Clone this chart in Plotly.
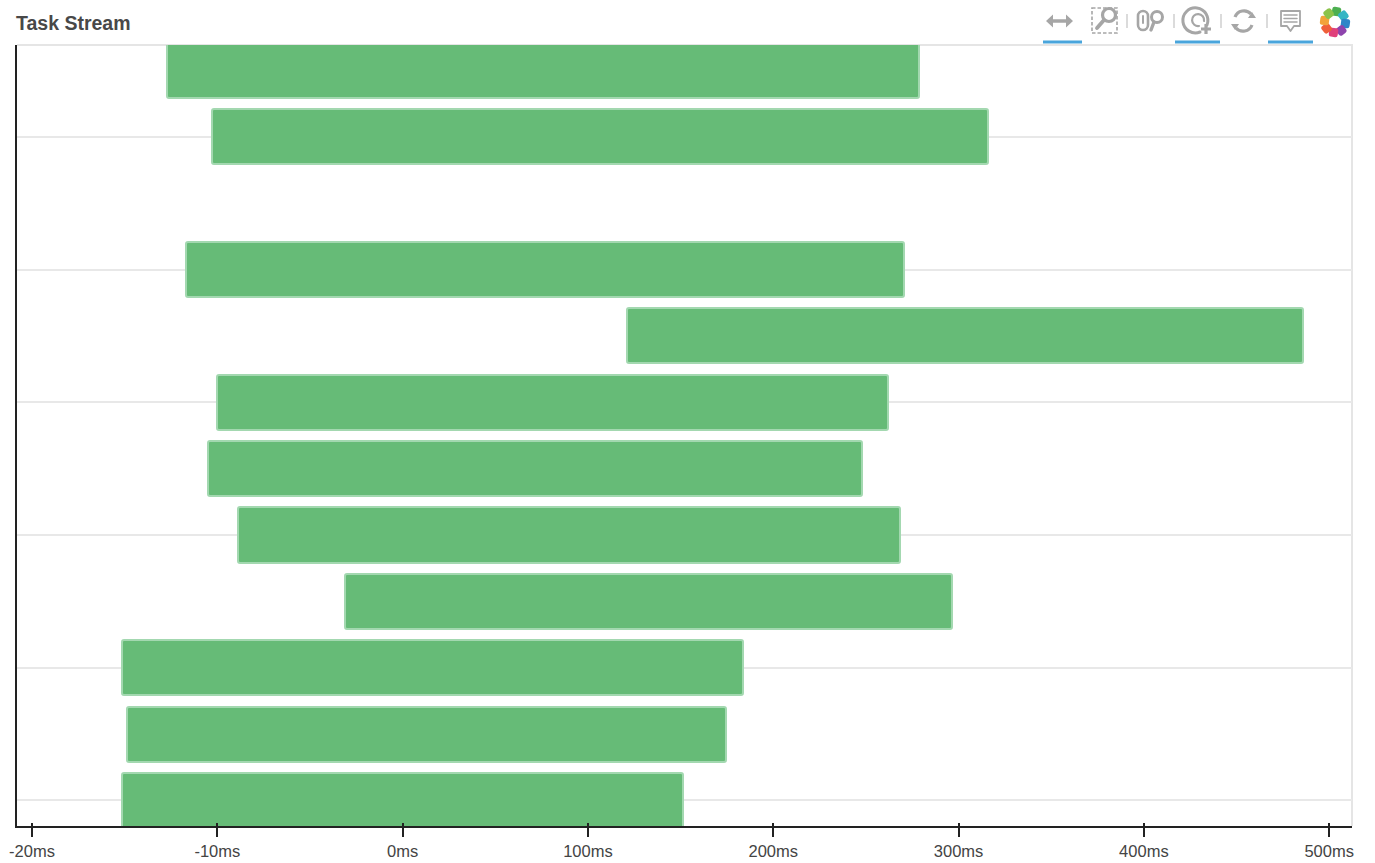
import base64
import numpy as np
import plotly.graph_objects as go

tick_labels = ["-20ms", "-10ms", "0ms", "100ms", "200ms", "300ms", "400ms", "500ms"]
tick_ms = [-20, -10, 0, 100, 200, 300, 400, 500]
rows = [11, 10, 8, 7, 6, 5, 4, 3, 2, 1, 0]
start_ms = [-12.7, -10.3, -11.7, 121, -10, -10.5, -8.9, -3.1, -15.15, -14.85, -15.15]
end_ms = [278.5, 316, 270.5, 486, 262, 248, 268.5, 296.5, 183.5, 174.5, 151.5]
grid_rows = [0, 2, 4, 6, 8, 10]

tick_pos = np.arange(len(tick_ms))
x0 = np.interp(start_ms, tick_ms, tick_pos)
x1 = np.interp(end_ms, tick_ms, tick_pos)

L, R, T, B = 17, 1352, 45, 826
W, H = 1375, 863
GREY = "#a6a6a6"

fig = go.Figure()
fig.add_trace(go.Bar(
    y=rows, x=x1 - x0, base=x0, orientation="h", width=0.83,
    marker=dict(color="#66bb77", line=dict(color="#a3d8b0", width=2), cornerradius=2),
    hoverinfo="skip", showlegend=False,
))
fig.add_trace(go.Scatter(x=[0], y=[0], xaxis="x2", mode="markers", marker=dict(opacity=0),
                         hoverinfo="skip", showlegend=False))

xrange = [-0.0809, 7.123]
petal_colors = ["#4caf50", "#35b5c4", "#2e86c8", "#8e44ad", "#e0407b", "#ef5f3a", "#f2a33a", "#8bc34a"]
petals = "".join(
    f'<rect x="1330.500" y="7" width="9" height="9" rx="2.500" fill="{c}" '
    f'transform="rotate({i * 45 + 8} 1335 22)"/>'
    for i, c in enumerate(petal_colors)
)
svg = f'''<svg xmlns="http://www.w3.org/2000/svg" viewBox="1030 0 345 44" width="345" height="44">
<g fill="none" stroke="{GREY}" stroke-width="3" stroke-linecap="round">
<path d="M1050 21H1069" stroke-width="3.500" stroke-linecap="butt"/>
<path d="M1046 21l7-6.500v13zM1073 21l-7-6.500v13z" fill="{GREY}" stroke="none"/>
<rect x="1092" y="8" width="25" height="25" stroke-width="1.600" stroke-dasharray="3.500 2" stroke-linecap="butt"/>
<circle cx="1109" cy="15" r="6.500" stroke-width="3.200"/><path d="M1104 20l-7 8" stroke-width="3.800"/>
<rect x="1138" y="11" width="10" height="19" rx="5" stroke-width="2.600"/>
<path d="M1143 16v7" stroke-width="2"/>
<circle cx="1157" cy="17" r="5.500" stroke-width="3"/><path d="M1154 22l-3 8" stroke-width="3.400"/>
<path d="M1207 25a12.500 12.500 0 1 0-7 7" stroke-width="3"/>
<path d="M1204 21a6 6 0 1 0-5 5" stroke-width="2.200"/>
<path d="M1206 24v10M1201 29h10" stroke-width="3.200" stroke-linecap="butt"/>
<path d="M1235 17a9.500 9.500 0 0 1 16-3" stroke-width="3.200" stroke-linecap="butt"/>
<path d="M1252 25a9.500 9.500 0 0 1-16 3" stroke-width="3.200" stroke-linecap="butt"/>
<path d="M1248 18h8l-4-6zM1239 24h-8l4 6z" fill="{GREY}" stroke="none"/>
<path d="M1281 11h19v15h-6l-3.500 5-3.500-5h-6z" stroke-width="1.800" stroke-linejoin="round"/>
<path d="M1284 15h13M1284 18.500h13M1284 22h13" stroke-width="1.500"/>
</g>
<path d="M1127 14v14M1174 14v14M1221 14v14M1267 14v14" stroke="#cfcfcf" stroke-width="1.500"/>
<path d="M1043 42h39M1175 42h45M1268 42h45" stroke="#49a5dc" stroke-width="3"/>
{petals}
</svg>'''
src = "data:image/svg+xml;base64," + base64.b64encode(svg.encode()).decode()

fig.update_layout(
    width=W, height=H, autosize=False,
    margin=dict(l=L, r=W - R, t=T, b=H - B, pad=0),
    paper_bgcolor="white", plot_bgcolor="white",
    bargap=0, showlegend=False,
    font=dict(family="Liberation Sans, Arial, sans-serif", color="#444444", size=16),
    title=dict(text="<b>Task Stream</b>", font=dict(size=19.5, color="#484848"),
               x=16 / W, xanchor="left", xref="container",
               y=1 - 23 / H, yanchor="middle", automargin=False),
    xaxis=dict(range=xrange, tickmode="array", tickvals=list(tick_pos), ticktext=tick_labels,
               ticks="outside", ticklen=9, tickwidth=2, tickcolor="#222222", automargin=False,
               showgrid=False, zeroline=False, showline=True, linecolor="#222222", linewidth=2,
               tickfont=dict(size=16.5, color="#444444"), fixedrange=True),
    xaxis2=dict(range=xrange, overlaying="x", anchor="y", side="bottom", tickmode="array",
                tickvals=list(tick_pos), ticktext=[""] * len(tick_pos), automargin=False,
                ticks="inside", ticklen=3, tickwidth=2, tickcolor="#222222",
                showgrid=False, zeroline=False, showline=False, fixedrange=True),
    yaxis=dict(range=[-0.386, 11.385], tickmode="array", tickvals=grid_rows, automargin=False,
               showticklabels=False, ticks="", showgrid=True, gridcolor="#e8e8e8", gridwidth=2,
               zeroline=False, showline=True, linecolor="#222222", linewidth=2, fixedrange=True),
    shapes=[dict(type="path", xref="paper", yref="paper", path="M 0 1 L 1 1 L 1 0",
                 line=dict(color="#e5e5e5", width=2), layer="below")],
    images=[dict(source=src, xref="paper", yref="paper", x=(1030 - L) / (R - L),
                 y=(B - 0) / (B - T), sizex=345 / (R - L), sizey=44 / (B - T),
                 xanchor="left", yanchor="top", sizing="stretch", layer="above")],
)

fig.write_html("out.html", config=dict(displayModeBar=False, responsive=False),
               post_script="document.body.style.margin='0';document.body.style.overflow='hidden';")
